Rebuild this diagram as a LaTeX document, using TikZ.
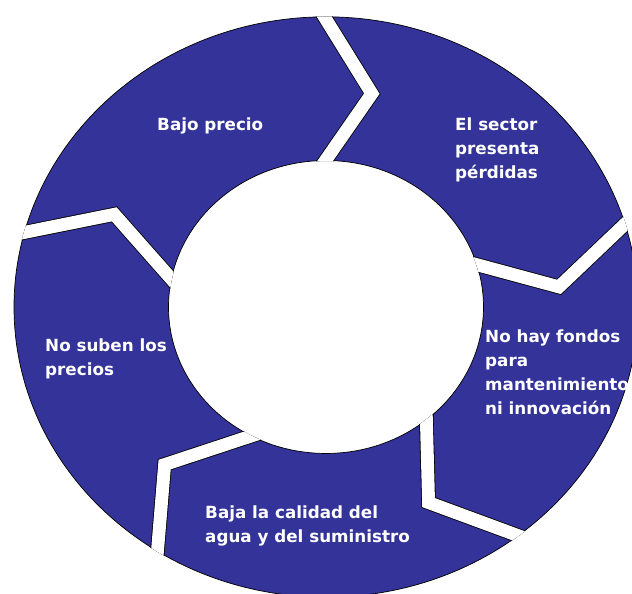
\documentclass[tikz,border=0pt]{standalone}
\usepackage{fontspec}
\setmainfont{DejaVu Sans}
\usetikzlibrary{calc}
\definecolor{ringblue}{HTML}{333399}

\begin{document}
\begin{tikzpicture}[
  x=0.3mm, y=0.3mm,
  every node/.style={font=\bfseries\fontsize{14.3}{20.5}\selectfont},
  cyctext/.style={text=white, align=left, anchor=base west, inner sep=0pt},
  rim/.style={draw=black, line width=0.6pt},
  gapback/.style={draw=black, line width=12.4pt},
  gapfront/.style={draw=white, line width=11pt}
]
\useasboundingbox (0,0) rectangle (632,594);
\clip (0,0) rectangle (632,594);

% Ring of five steps
\begin{scope}[shift={(326,287)}, yscale=0.93]
  \fill[ringblue, even odd rule] (0,0) circle (312) (0,0) circle (157.5);
  \draw[rim] (0,0) circle (312) (0,0) circle (157.5);
  \begin{scope}[even odd rule]
    \clip (0,0) circle (312.6) (0,0) circle (156.9);
    \foreach \ai/\at/\ao in {90.2/78.7/90.3, 16.8/5.3/16.6, -50.4/-64/-52,
                             -118.3/-133.6/-122.7, 169/154.8/165.1} {
      \draw[gapback] ($(\at:234)!1.2!(\ai:157.5)$) -- (\at:234)
                     -- ($(\at:234)!1.2!(\ao:312)$);
      \draw[gapfront] ($(\at:234)!1.2!(\ai:157.5)$) -- (\at:234)
                      -- ($(\at:234)!1.2!(\ao:312)$);
    }
  \end{scope}
\end{scope}

% Labels (base = last line)
\node[cyctext] (bajo) at (157,463) {Bajo precio};
\node[cyctext] (sector) at (455,415) {El sector\\presenta\\pérdidas};
\node[cyctext] (fondos) at (485,179) {No hay fondos\\para\\mantenimiento\\ni innovación};
\node[cyctext] (suben) at (45,218.5) {No suben los\\precios};
\node[cyctext] (calidad) at (205,51) {Baja la calidad del\\agua y del suministro};

\end{tikzpicture}
\end{document}
